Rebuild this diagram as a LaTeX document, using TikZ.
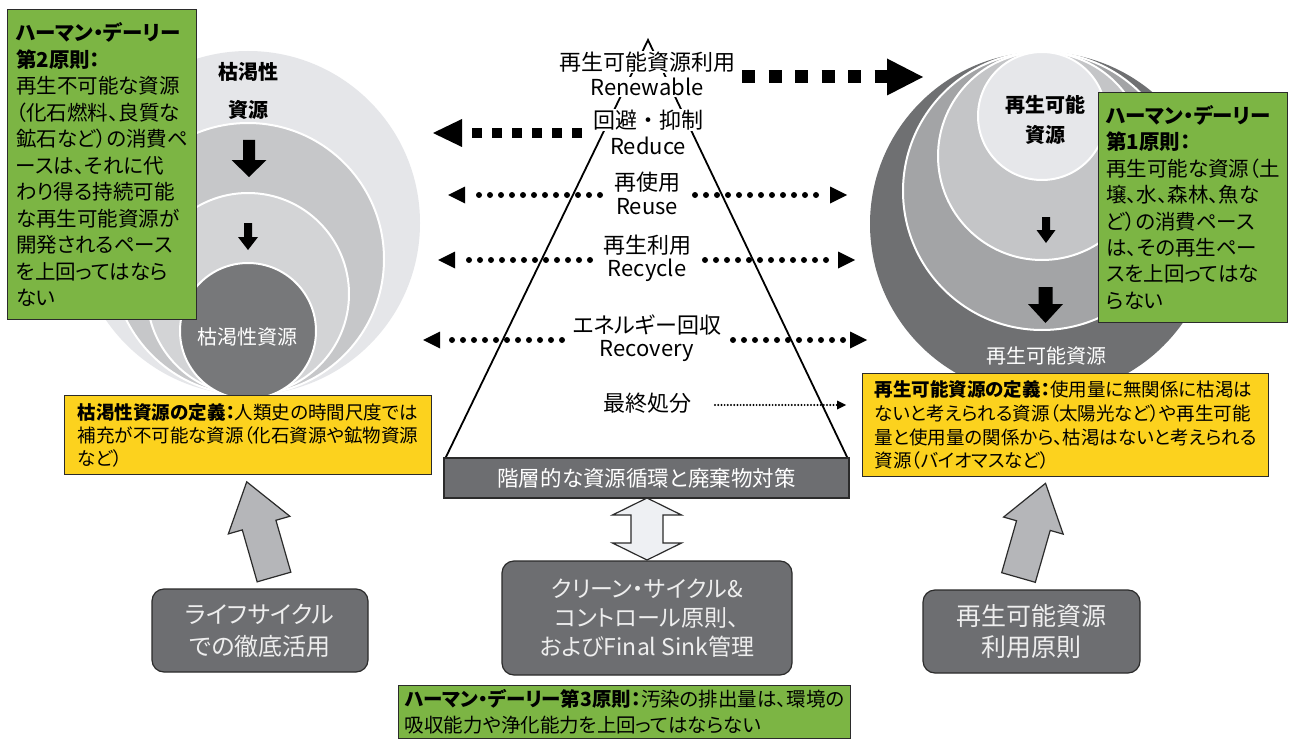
\documentclass[tikz,border=0pt]{standalone}
\usepackage{fontspec}
\setmainfont{Noto Sans CJK JP}[RawFeature=+palt]
\newfontfamily\jpfull{Noto Sans CJK JP}
\usetikzlibrary{arrows.meta}
\definecolor{gfill}{HTML}{7CB544}
\definecolor{yfill}{HTML}{FCD21E}
\definecolor{dgray}{HTML}{6D6E71}
\definecolor{agray}{HTML}{B5B6B9}
\definecolor{dafill}{HTML}{EEF0F3}
\definecolor{edge}{HTML}{2B2B2B}
\definecolor{boxtext}{HTML}{EEEEEE}
\definecolor{lcA}{HTML}{E5E6E9}
\definecolor{lcB}{HTML}{C6C7C9}
\definecolor{lcC}{HTML}{D3D4D6}
\definecolor{lcD}{HTML}{77787A}
\definecolor{rcA}{HTML}{6F7072}
\definecolor{rcB}{HTML}{A3A4A6}
\definecolor{rcC}{HTML}{C4C5C7}
\definecolor{rcD}{HTML}{E6E7EA}
\newcommand\dnarrow[6]{%
  \fill[black] (#1-#5,#2) -- (#1+#5,#2) -- (#1+#5,#3) -- (#1+#6,#3) -- (#1,#4) -- (#1-#6,#3) -- (#1-#5,#3) -- cycle;}
\newcommand\lefttip[4]{\fill[black] (#1,#2) -- (#1+#3,#2-#4) -- (#1+#3,#2+#4) -- cycle;}
\newcommand\righttip[4]{\fill[black] (#1,#2) -- (#1-#3,#2-#4) -- (#1-#3,#2+#4) -- cycle;}
\begin{document}
\begin{tikzpicture}[x=1pt,y=-1pt,
  gbox/.style={draw=edge, line width=1.2pt, fill=gfill, align=left, text=black, inner sep=0pt},
  ybox/.style={draw=edge, line width=1.2pt, fill=yfill, align=left, text=black, inner sep=0pt},
  rbox/.style={draw=edge, line width=1.2pt, fill=dgray, rounded corners=12pt, align=center, text=boxtext, inner sep=0pt},
  ptext/.style={fill=white, inner sep=1pt, font=\fontsize{22}{22}\selectfont},
  clabel/.style={font=\fontsize{20}{20}\selectfont\bfseries},
  wlabel/.style={text=white, font=\fontsize{20}{20}\selectfont},
  dotline/.style={line width=6pt, dash pattern=on 0pt off 11pt, line cap=round},
  ring/.style={draw=white, line width=2pt},
  blockarrow/.style={draw=edge, line width=1.2pt, fill=agray, line join=miter}
]
\useasboundingbox (0,0) rectangle (1290,749);
\fill[white] (0,0) rectangle (1290,749);

% ---------- left circles (exhaustible resources)
\fill[lcA] (248,223) circle[radius=172pt];
\filldraw[ring, fill=lcB] (248,259) circle[radius=136pt];
\filldraw[ring, fill=lcC] (248,294) circle[radius=101pt];
\filldraw[ring, fill=lcD] (248,331) circle[radius=68pt];
\node[clabel] (lt1) at (248,72) {枯渇性};
\node[clabel] (lt2) at (248,110) {資源};
\node[wlabel] (lin) at (247,337) {枯渇性資源};
\dnarrow{249}{140}{160}{177}{6}{17.5}
\dnarrow{248}{223}{237}{250}{4}{10}

% ---------- right circles (renewable resources)
\fill[rcA] (1042,224) circle[radius=172pt];
\filldraw[ring, fill=rcB] (1042,191) circle[radius=139pt];
\filldraw[ring, fill=rcC] (1042,156) circle[radius=104pt];
\filldraw[ring, fill=rcD] (1042,116) circle[radius=64pt];
\node[clabel] (rt1) at (1045,105) {再生可能};
\node[clabel] (rt2) at (1045,135) {資源};
\node[wlabel] (rin) at (1046,356) {再生可能資源};
\dnarrow{1046}{217}{230}{243}{4}{9.5}
\dnarrow{1045.5}{287}{304}{323}{7}{17.5}

% ---------- pyramid
\coordinate (apex) at (648,40);
\coordinate (pl) at (445,459);
\coordinate (pr) at (848,459);
\draw[line width=1.8pt, line join=miter] (pl) -- (apex) -- (pr);

\node[ptext] (t1) at (647,62) {再生可能資源利用};
\node[ptext] (t2) at (647,87) {Renewable};
\node[ptext, font=\fontsize{22}{22}\jpfull] (t3) at (648,120) {回避・抑制};
\node[ptext] (t4) at (648,146) {Reduce};
\node[ptext] (t5) at (647,182) {再使用};
\node[ptext] (t6) at (647,207) {Reuse};
\node[ptext] (t7) at (647,245) {再生利用};
\node[ptext] (t8) at (647,270) {Recycle};
\node[ptext] (t9) at (647,325) {エネルギー回収};
\node[ptext] (t10) at (647,351) {Recovery};
\node[ptext] (t11) at (647,403) {最終処分};

% ---------- big dashed arrows
\coordinate (bR1) at (742,77);
\coordinate (bR2) at (887.5,77);
\draw[line width=13pt, dash pattern=on 13pt off 13.5pt] (bR1) -- (bR2);
\righttip{923}{77}{36}{18.5}
\coordinate (bL1) at (582,133);
\coordinate (bL2) at (472,133);
\draw[line width=10pt, dash pattern=on 10pt off 10pt] (bL1) -- (bL2);
\lefttip{433}{133}{29}{14}

% ---------- dotted double arrows
\coordinate (uL1) at (600,195); \coordinate (uL2) at (468,195);
\coordinate (uR1) at (695,195); \coordinate (uR2) at (827,195);
\draw[dotline] (uL1) -- (uL2); \draw[dotline] (uR1) -- (uR2);
\lefttip{448}{195}{17}{8.5} \righttip{847}{195}{17}{8.5}

\coordinate (cL1) at (590,260); \coordinate (cL2) at (458,260);
\coordinate (cR1) at (705,260); \coordinate (cR2) at (836,260);
\draw[dotline] (cL1) -- (cL2); \draw[dotline] (cR1) -- (cR2);
\lefttip{438}{260}{17}{8.5} \righttip{855}{260}{17}{8.5}

\coordinate (vL1) at (562,340); \coordinate (vL2) at (442,340);
\coordinate (vR1) at (733,340); \coordinate (vR2) at (850,340);
\draw[dotline] (vL1) -- (vL2); \draw[dotline] (vR1) -- (vR2);
\lefttip{423}{340}{17}{8.5} \righttip{867}{340}{17}{8.5}

\coordinate (fA) at (715,405); \coordinate (fB) at (838,405);
\draw[line width=2.2pt, dash pattern=on 0pt off 3.2pt, line cap=round] (fA) -- (fB);
\righttip{846}{405}{9}{4.5}

% ---------- band
\node[draw=edge, line width=1.2pt, fill=dgray, text=white, minimum width=405pt, minimum height=40pt, inner sep=0pt, font=\fontsize{21.5}{21.5}\selectfont] (band) at (646.5,478) {階層的な資源循環と廃棄物対策};

% ---------- double block arrow
\filldraw[draw=edge, line width=1.2pt, fill=dafill, line join=miter] (647,498) -- (681.5,515) -- (663,515) -- (663,543) -- (681.5,543) -- (647,560) -- (612.5,543) -- (631,543) -- (631,515) -- (612.5,515) -- cycle;

% ---------- green boxes
\node[gbox, anchor=north west, minimum width=189pt, minimum height=310pt, font=\fontsize{20.5}{26.5}\selectfont] (g2) at (7,9)
{\bfseries ハーマン・デーリー\\\bfseries 第2原則：\\再生不可能な資源\\（化石燃料、良質な\\鉱石など）の消費ペ\\ースは、それに代\\わり得る持続可能\\な再生可能資源が\\開発されるペース\\を上回ってはなら\\ない};

\node[gbox, anchor=north west, minimum width=189pt, minimum height=230pt, font=\fontsize{20.5}{26.4}\selectfont] (g1) at (1098,92)
{\bfseries ハーマン・デーリー\\\bfseries 第1原則：\\再生可能な資源（土\\壌、水、森林、魚な\\ど）の消費ペース\\は、その再生ペー\\スを上回ってはな\\らない};

\node[gbox, anchor=north west, minimum width=452pt, minimum height=53pt, font=\fontsize{19.5}{26}\selectfont] (g3) at (398,685)
{{\bfseries ハーマン・デーリー第3原則：}汚染の排出量は、環境の\\吸収能力や浄化能力を上回ってはならない};

% ---------- yellow boxes
\node[ybox, anchor=north west, minimum width=367pt, minimum height=79pt, font=\fontsize{18.5}{23}\selectfont] (y1) at (64,395)
{{\bfseries 枯渇性資源の定義：}人類史の時間尺度では\\補充が不可能な資源（化石資源や鉱物資源\\など）};

\node[ybox, anchor=north west, minimum width=406pt, minimum height=103pt, font=\fontsize{18.5}{23.7}\selectfont] (y2) at (862,373)
{{\bfseries 再生可能資源の定義：}使用量に無関係に枯渇は\\ないと考えられる資源（太陽光など）や再生可能\\量と使用量の関係から、枯渇はないと考えられる\\資源（バイオマスなど）};

% ---------- gray rounded boxes
\node[rbox, minimum width=216pt, minimum height=83pt, font=\fontsize{24}{32}\selectfont] (b1) at (260,630.5) {ライフサイクル\\での徹底活用};
\node[rbox, minimum width=290pt, minimum height=114pt, font=\fontsize{23}{29}\selectfont] (b2) at (647,618) {クリーン・サイクル\&\\コントロール原則、\\およびFinal Sink管理};
\node[rbox, minimum width=217pt, minimum height=83pt, font=\fontsize{25}{31}\selectfont] (b3) at (1031.5,631.5) {再生可能資源\\利用原則};

% ---------- tilted up arrows
\begin{scope}[shift={(274,577)}, rotate=16]
\filldraw[blockarrow] (-17.5,0) -- (-17.5,-54) -- (-32,-54) -- (0,-99) -- (32,-54) -- (17.5,-54) -- (17.5,0) -- cycle;
\end{scope}
\begin{scope}[shift={(1018.5,577.5)}, rotate=-16]
\filldraw[blockarrow] (-17.5,0) -- (-17.5,-54) -- (-31,-54) -- (0,-98) -- (31,-54) -- (17.5,-54) -- (17.5,0) -- cycle;
\end{scope}
\end{tikzpicture}
\end{document}
